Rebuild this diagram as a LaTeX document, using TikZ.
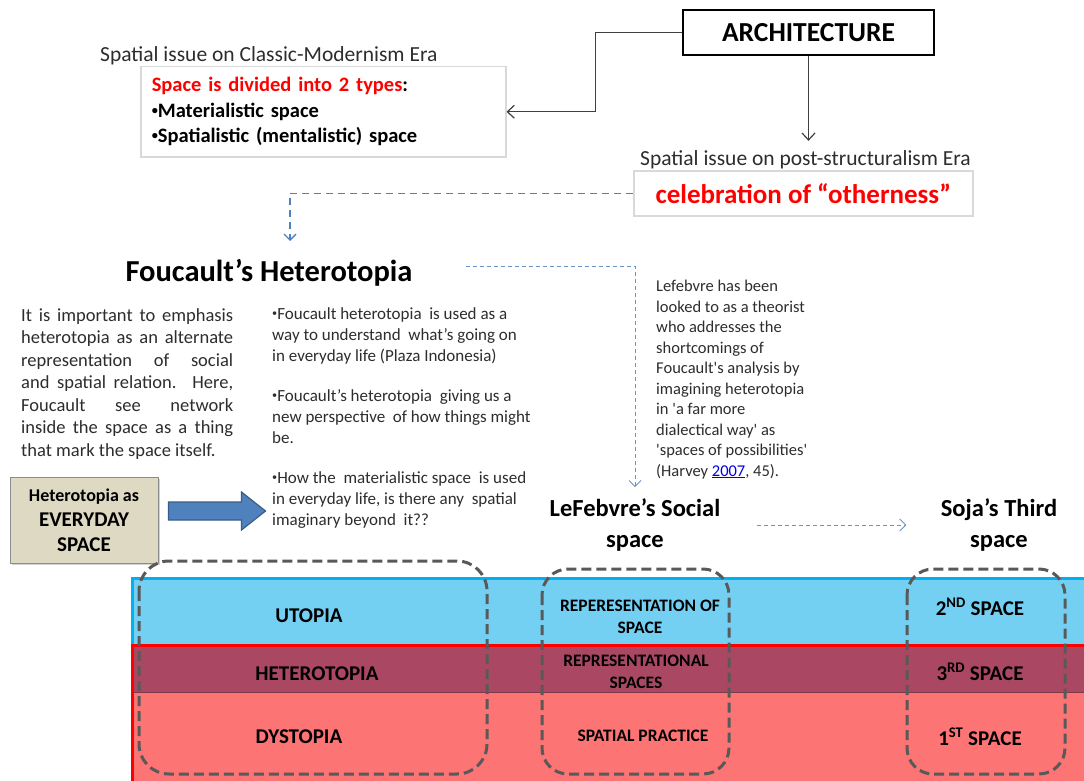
\documentclass[tikz,border=0pt]{standalone}
\usepackage{fontspec}
\setmainfont{Carlito}[Ligatures=TeXOff]
\usetikzlibrary{arrows.meta,calc,shadows}

\definecolor{bandblue}{RGB}{115,208,243}
\definecolor{bandcyan}{RGB}{0,176,240}
\definecolor{banddark}{RGB}{170,72,100}
\definecolor{bandred}{RGB}{252,116,116}
\definecolor{linkblue}{RGB}{79,129,189}
\definecolor{arrowedge}{RGB}{56,93,138}
\definecolor{tanfill}{RGB}{221,217,195}
\definecolor{boxgrey}{RGB}{217,217,217}
\definecolor{dashgrey}{RGB}{89,89,89}
\definecolor{textgrey}{RGB}{45,45,45}
\definecolor{hyperblue}{RGB}{0,0,230}

\newcommand{\smbul}{\raisebox{0.3ex}{\scalebox{0.6}{•}}}

\tikzset{
  issue/.style={font=\fontsize{21.5}{26}\selectfont, text=textgrey, inner sep=0pt, anchor=base west},
  greybox/.style={draw=boxgrey, line width=1.5pt, fill=white, anchor=north west},
  conn/.style={draw=black!75, line width=1.2pt, -{Straight Barb[length=7pt,width=13pt]}},
  blueconn/.style={draw=linkblue, line width=1.3pt, dash pattern=on 7pt off 5pt, -{Straight Barb[length=6pt,width=12pt]}},
  thinconn/.style={draw=linkblue!85, line width=0.9pt, dash pattern=on 4pt off 3pt, -{Straight Barb[length=6pt,width=12pt]}},
  body/.style={font=\fontsize{18.5}{22.5}\selectfont, text=textgrey, inner sep=0pt, anchor=north west},
  bandlbl/.style={font=\bfseries\fontsize{21}{25}\selectfont},
  smallband/.style={font=\bfseries\fontsize{17.5}{22}\selectfont, align=center},
  subhead/.style={font=\bfseries\fontsize{24.5}{31}\selectfont, align=center},
  groupbox/.style={draw=dashgrey, line width=3pt, dash pattern=on 10pt off 5pt, rounded corners=30pt},
}

\begin{document}
\begin{tikzpicture}[x=1pt,y=-1pt]
\useasboundingbox (0,0) rectangle (1084,781);
\fill[white] (0,0) rectangle (1084,781);

% top of the slide
\node[draw=black, line width=1.2pt, minimum width=251pt, minimum height=45pt, font=\bfseries\fontsize{27.5}{30}\selectfont] (arch) at (808.5,32.5) {ARCHITECTURE};
\node[issue] (classic) at (100,62) {Spatial issue on Classic-Modernism Era};
\node[greybox, minimum width=365pt, minimum height=90pt, text width=343pt, inner xsep=11pt, align=left, font=\bfseries\fontsize{20.5}{25.5}\selectfont] (types) at (140,66) {\textcolor{red}{Space is divided into 2 types}:\\\smbul Materialistic space\\\smbul Spatialistic (mentalistic) space};
\node[issue] (post) at (640,165) {Spatial issue on post-structuralism Era};
\node[greybox, minimum width=339pt, minimum height=45pt, text=red, font=\bfseries\fontsize{27}{30}\selectfont] (other) at (633,170) {celebration of “otherness”};

\coordinate (bend) at ($(types.east)+(89,0)$);
\draw[conn] (arch.west) -| (bend) -- (types.east);
\draw[conn] (arch.south) -- ([yshift=9pt]arch.south |- post.north);

% Foucault
\node[font=\bfseries\fontsize{30.5}{34}\selectfont, inner sep=0pt, anchor=base] (fh) at (269,281) {Foucault’s Heterotopia};
\coordinate (fhtop) at (290,241);
\draw[blueconn] (other.west) -| (fhtop);

\node[body, text width=212pt, align=justify] (para) at (21,308) {It is important to emphasis\linebreak heterotopia as an alternate\linebreak representation of social\linebreak and spatial relation. Here,\linebreak Foucault see network\linebreak inside the space as a thing\linebreak that mark the space itself.};

\node[body, font=\fontsize{17}{21}\selectfont, align=left] (bul) at (272,307) {\smbul Foucault heterotopia \ is used as a\\way to understand \ what’s going on\\in everyday life (Plaza Indonesia)\\[19pt]\smbul Foucault’s heterotopia \ giving us a\\new perspective \ of how things might\\be.\\[19pt]\smbul How the \ materialistic space \ is used\\in everyday life, is there any \ spatial\\imaginary beyond \ it??};

\node[body, font=\fontsize{16.5}{20.5}\selectfont, align=left] (lefnote) at (656,280) {Lefebvre has been\\looked to as a theorist\\who addresses the\\shortcomings of\\Foucault's analysis by\\imagining heterotopia\\in 'a far more\\dialectical way' as\\'spaces of possibilities'\\(Harvey \textcolor{hyperblue}{\underline{2007}}, 45).};

\node[draw=black!45, fill=tanfill, line width=1pt, minimum width=148pt, minimum height=86pt, align=center, font=\bfseries\fontsize{21}{25}\selectfont, drop shadow={shadow xshift=2pt, shadow yshift=-2pt, opacity=0.35}] (ev) at (84,520) {{\fontsize{18}{22}\selectfont Heterotopia as}\\EVERYDAY\\SPACE};
\draw[fill=linkblue, draw=arrowedge, line width=1.2pt] ($(ev.east)+(10,-18)$) -- ++(73,0) -- ++(0,-10) -- ++(24,19) -- ++(-24,19) -- ++(0,-10) -- ++(-73,0) -- cycle;

% Lefebvre and Soja
\node[subhead] (lef) at (635,525) {LeFebvre’s Social\\space};
\node[subhead] (soja) at (999,525) {Soja’s Third\\space};
\draw[thinconn] ([xshift=53pt,yshift=6pt]fh.east) -| ([yshift=8pt]lef.north);
\draw[thinconn] ([xshift=33pt]lef.east) -- ([xshift=-31pt]soja.west);

% the three bands
\fill[bandblue] (131,578) rectangle (1084,645);
\fill[banddark] (131,645) rectangle (1084,692);
\fill[bandred] (131,692) rectangle (1084,781);
\draw[banddark!75!black, line width=1pt] (131,692) -- (1084,692);
\draw[bandcyan, line width=3pt] (1084,578) -- (132.5,578) -- (132.5,645);
\draw[red, line width=3pt] (1084,645) -- (132.5,645) -- (132.5,781);

\draw[groupbox] (139,561) rectangle (487,774);
\draw[groupbox, rounded corners=26pt] (542,569) rectangle (729,774);
\draw[groupbox, rounded corners=26pt] (907,569) rectangle (1065,774);

\node[bandlbl] (utopia) at (309,616) {UTOPIA};
\node[bandlbl] (hetero) at (317,674) {HETEROTOPIA};
\node[bandlbl] (dystopia) at (299,737) {DYSTOPIA};
\node[smallband] (repsp) at (640,617) {REPERESENTATION OF\\SPACE};
\node[smallband] (repal) at (636,672) {REPRESENTATIONAL\\SPACES};
\node[smallband] (pract) at (643,736) {SPATIAL PRACTICE};
\node[bandlbl] (second) at (980,607) {2\textsuperscript{ND} SPACE};
\node[bandlbl] (third) at (980,672) {3\textsuperscript{RD} SPACE};
\node[bandlbl] (first) at (980,737) {1\textsuperscript{ST} SPACE};
\end{tikzpicture}
\end{document}
